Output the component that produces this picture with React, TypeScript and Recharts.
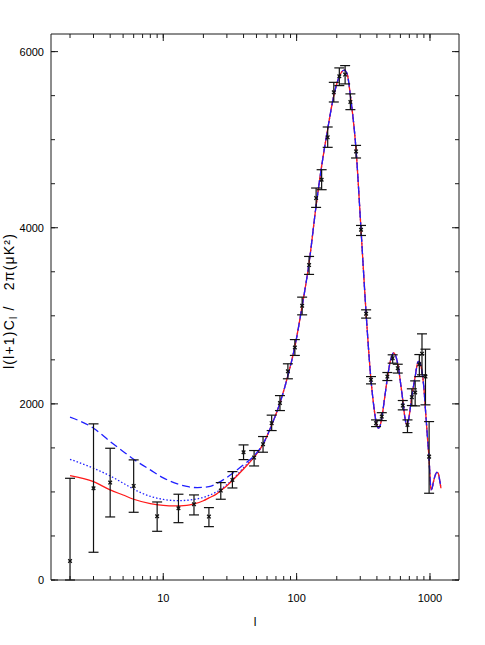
import React from 'react';
import { ComposedChart, Line, Scatter, ErrorBar, XAxis, YAxis } from 'recharts';

// best-fit model spectrum (red solid, also under the blue curves at high l)
const modelL = [2, 3, 4, 5, 6, 8, 10, 12, 15, 17, 20, 22, 25, 27, 30, 33, 40, 48, 56, 65, 75, 86, 97, 110, 124, 140, 154, 171, 190, 209, 228, 240, 253, 279, 304, 332, 361, 380, 395, 410, 420, 435, 458, 481, 505, 534, 560, 581, 600, 625, 645, 667, 690, 731, 774, 816, 840, 871, 900, 925, 955, 985, 1000, 1017, 1035, 1060, 1090, 1125, 1150, 1180, 1208];
const modelCl = [1185, 1117, 1023, 965, 917, 868, 848, 841, 848, 864, 900, 932, 975, 1015, 1070, 1130, 1260, 1395, 1540, 1760, 2010, 2320, 2650, 3110, 3600, 4250, 4700, 5120, 5500, 5720, 5790, 5740, 5500, 4886, 3977, 3023, 2273, 1960, 1790, 1725, 1740, 1837, 2080, 2310, 2490, 2580, 2520, 2405, 2250, 2045, 1870, 1765, 1820, 2083, 2310, 2481, 2470, 2367, 2180, 1932, 1640, 1364, 1180, 1025, 1040, 1110, 1180, 1222, 1215, 1140, 1042];

// low-l variants (blue dashed / blue dotted), they join the model above l~56
const dashedL = [2, 3, 4, 5, 6, 8, 10, 13, 15, 18, 22, 27, 33, 40, 48, 56];
const dashedCl = [1849, 1724, 1572, 1460, 1371, 1250, 1160, 1087, 1062, 1049, 1060, 1120, 1210, 1310, 1410, 1545];
const dottedL = [2, 3, 4, 5, 6, 8, 10, 13, 17, 22, 27, 33, 40, 48, 56];
const dottedCl = [1371, 1269, 1182, 1100, 1031, 950, 915, 901, 915, 960, 1030, 1140, 1275, 1400, 1540];

// band powers with 1-sigma error bars
const pointL = [2, 3, 4, 6, 9, 13, 17, 22, 27, 33, 40, 48, 56, 65, 75, 86, 97, 110, 124, 140, 154, 171, 190, 209, 231, 253, 279, 304, 332, 361, 394, 435, 479, 525, 573, 625, 678, 731, 774, 832, 871, 925, 985];
const pointCl = [216, 1042, 1106, 1068, 724, 815, 860, 720, 1015, 1136, 1451, 1390, 1542, 1781, 2010, 2370, 2640, 3114, 3576, 4337, 4545, 5027, 5538, 5720, 5739, 5428, 4867, 3977, 3023, 2273, 1781, 1856, 2310, 2519, 2405, 1981, 1761, 2076, 2129, 2450, 2570, 2310, 1401];
const pointLow = [0, 315, 716, 769, 553, 651, 739, 606, 917, 1045, 1367, 1295, 1451, 1697, 1924, 2285, 2550, 3011, 3470, 4231, 4432, 4913, 5428, 5614, 5633, 5341, 4792, 3912, 2974, 2227, 1742, 1810, 2265, 2462, 2350, 1932, 1674, 1981, 1977, 2310, 2330, 1989, 985];
const pointHigh = [1155, 1773, 1496, 1364, 886, 974, 966, 822, 1106, 1231, 1534, 1470, 1629, 1872, 2094, 2455, 2730, 3212, 3674, 4451, 4659, 5144, 5651, 5815, 5841, 5520, 4935, 4026, 3068, 2310, 1818, 1900, 2356, 2557, 2450, 2038, 1818, 2171, 2261, 2560, 2795, 2621, 1799];

const xTicks = [2, 3, 4, 5, 6, 7, 8, 9, 10, 20, 30, 40, 50, 60, 70, 80, 90, 100, 200, 300, 400, 500, 600, 700, 800, 900, 1000];
const xLabels = [10, 100, 1000];
const yTicks = [0, 500, 1000, 1500, 2000, 2500, 3000, 3500, 4000, 4500, 5000, 5500, 6000];
const yLabels = [0, 2000, 4000, 6000];

const toRows = (ls: number[], vs: number[]) => ls.map((l, i) => ({ l, v: vs[i] }));
const modelRows = toRows(modelL, modelCl);
const highRows = modelRows.filter((r) => r.l > 56);
const dashedRows = toRows(dashedL, dashedCl).concat(highRows);
const dottedRows = toRows(dottedL, dottedCl).concat(highRows);
const pointRows = pointL.map((l, i) => ({
  l,
  v: pointCl[i],
  err: [pointCl[i] - pointLow[i], pointHigh[i] - pointCl[i]],
}));

const frame = '#1a1a1a';
const font = '"Liberation Sans", Arial, sans-serif';
const tickStyle = { stroke: frame, strokeWidth: 1 };

// labels only; tick marks come from tickLine (inward, 4px) plus a longer mark on labelled ticks
const BottomTick = (props: any) => {
  const { x, y, payload } = props;
  if (!xLabels.includes(payload.value)) return <g />;
  return (
    <g>
      <line x1={x} x2={x} y1={y} y2={y - 7} stroke={frame} strokeWidth={1} />
      <text x={x} y={y + 22} textAnchor="middle" fontSize={11} fontFamily={font} fill="#000">
        {payload.value}
      </text>
    </g>
  );
};

const TopTick = (props: any) => {
  const { x, y, payload } = props;
  if (!xLabels.includes(payload.value)) return <g />;
  return <line x1={x} x2={x} y1={y} y2={y + 7} stroke={frame} strokeWidth={1} />;
};

const LeftTick = (props: any) => {
  const { x, y, payload } = props;
  if (!yLabels.includes(payload.value)) return <g />;
  return (
    <g>
      <line x1={x} x2={x + 7} y1={y} y2={y} stroke={frame} strokeWidth={1} />
      <text x={x - 7} y={y + 4} textAnchor="end" fontSize={11} fontFamily={font} fill="#000">
        {payload.value}
      </text>
    </g>
  );
};

const RightTick = (props: any) => {
  const { x, y, payload } = props;
  if (!yLabels.includes(payload.value)) return <g />;
  return <line x1={x} x2={x - 7} y1={y} y2={y} stroke={frame} strokeWidth={1} />;
};

const Cross = (props: any) => {
  const { cx, cy } = props;
  const s = 1.8;
  return (
    <path
      d={`M${cx - s},${cy - s}L${cx + s},${cy + s}M${cx - s},${cy + s}L${cx + s},${cy - s}`}
      stroke="#111"
      strokeWidth={1.3}
    />
  );
};

export default function App() {
  return (
    <div style={{ position: 'absolute', left: 0, top: 0, width: 485, height: 645, background: '#fff' }}>
      <ComposedChart width={485} height={645} margin={{ top: 33, right: 25, bottom: 0, left: 0 }}>
        <XAxis
          dataKey="l"
          type="number"
          scale="log"
          domain={[1.44, 1650]}
          allowDataOverflow
          ticks={xTicks}
          interval={0}
          height={65}
          tickSize={-4}
          tickMargin={4}
          stroke={frame}
          tick={<BottomTick />}
          tickLine={tickStyle}
        />
        <XAxis
          xAxisId="top"
          orientation="top"
          dataKey="l"
          type="number"
          scale="log"
          domain={[1.44, 1650]}
          allowDataOverflow
          ticks={xTicks}
          interval={0}
          height={1}
          tickSize={-4}
          tickMargin={4}
          stroke={frame}
          tick={<TopTick />}
          tickLine={tickStyle}
        />
        <YAxis
          type="number"
          domain={[0, 6200]}
          allowDataOverflow
          ticks={yTicks}
          interval={0}
          width={51}
          tickSize={-4}
          tickMargin={4}
          stroke={frame}
          tick={<LeftTick />}
          tickLine={tickStyle}
        />
        <YAxis
          yAxisId="right"
          orientation="right"
          type="number"
          domain={[0, 6200]}
          allowDataOverflow
          ticks={yTicks}
          interval={0}
          width={1}
          tickSize={-4}
          tickMargin={4}
          stroke={frame}
          tick={<RightTick />}
          tickLine={tickStyle}
        />
        {/* invisible series so the top and right frame axes get drawn */}
        <Line data={modelRows} xAxisId="top" yAxisId="right" dataKey="v" stroke="none" dot={false} isAnimationActive={false} />
        <Line data={dottedRows} dataKey="v" type="monotone" stroke="#1f1fff" strokeWidth={1.3} strokeDasharray="1.5 2" dot={false} isAnimationActive={false} />
        <Line data={modelRows} dataKey="v" type="monotone" stroke="#ff1a1a" strokeWidth={1.3} dot={false} isAnimationActive={false} />
        <Line data={dashedRows} dataKey="v" type="monotone" stroke="#1f1fff" strokeWidth={1.3} strokeDasharray="8 4" dot={false} isAnimationActive={false} />
        <Scatter data={pointRows} dataKey="v" shape={<Cross />} isAnimationActive={false}>
          <ErrorBar dataKey="err" direction="y" width={5} stroke="#111" strokeWidth={1.2} />
        </Scatter>
      </ComposedChart>
      <svg width={485} height={645} style={{ position: 'absolute', left: 0, top: 0, pointerEvents: 'none' }}>
        <text transform="translate(14,301) rotate(-90)" textAnchor="middle" fontSize={14} letterSpacing={1.2} fontFamily={font} fill="#000">
          l(l+1)C<tspan fontSize={10} dy={3}>l</tspan>
          <tspan dy={-3}>{'\u00a0/\u00a0\u00a0\u00a02π(μK²)'}</tspan>
        </text>
        <text x={255} y={626} textAnchor="middle" fontSize={12} fontFamily={font} fill="#000">
          l
        </text>
      </svg>
    </div>
  );
}
